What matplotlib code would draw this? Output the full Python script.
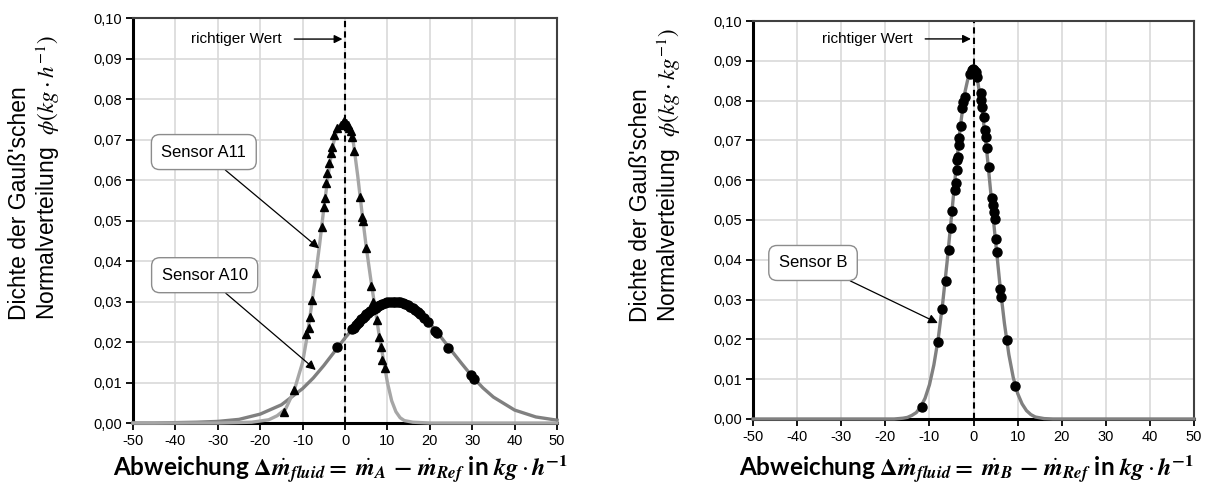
import matplotlib.pyplot as plt
from matplotlib.ticker import FuncFormatter

plt.rcParams.update({'font.family': 'Liberation Sans', 'mathtext.fontset': 'stix',
                     'axes.unicode_minus': False})

# ---- Sensor A11 (left chart, triangles) ----
a11_curve_x = [-50, -30, -22, -18, -16, -14, -12, -10, -9, -8, -7, -6, -5, -4, -3, -2, -1, 0,
               1, 2, 3, 4, 5, 6, 7, 8, 9, 10, 11, 12, 13, 14, 16, 20, 50]
a11_curve_y = [0.0, 0.0, 0.0002, 0.0008, 0.0018, 0.0035, 0.0080, 0.0150, 0.0210, 0.0282, 0.0360,
               0.0440, 0.0530, 0.0610, 0.0680, 0.0720, 0.0738, 0.0742, 0.0728, 0.0690, 0.0610,
               0.0520, 0.0435, 0.0360, 0.0290, 0.0220, 0.0160, 0.0100, 0.0055, 0.0028, 0.0013,
               0.0006, 0.0002, 0.0, 0.0]
a11_pts_x = [-14.4, -12.0, -9.3, -8.6, -8.3, -7.7, -6.9, -5.5, -4.95, -4.7, -4.4, -4.2, -3.8, -3.4,
             -3.0, -2.6, -1.8, -1.0, -0.5, -0.2, 0.3, 0.6, 1.0, 1.3, 1.7, 2.1, 3.5, 4.1, 4.25,
             5.0, 6.2, 6.5, 7.5, 8.0, 8.4, 8.8, 9.4]
a11_pts_y = [0.0028, 0.0081, 0.0221, 0.0234, 0.0262, 0.0304, 0.0370, 0.0483, 0.0534, 0.0555,
             0.0592, 0.0617, 0.0641, 0.0666, 0.0682, 0.0710, 0.0728, 0.0736, 0.0742, 0.0745,
             0.0740, 0.0735, 0.0728, 0.0722, 0.0707, 0.0672, 0.0558, 0.0509, 0.0500, 0.0432,
             0.0338, 0.0300, 0.0254, 0.0213, 0.0188, 0.0156, 0.0135]

# ---- Sensor A10 (left chart, circles) ----
a10_curve_x = [-50, -45, -40, -35, -30, -25, -20, -15, -10, -7.5, -5, -2.5, 0, 2.5, 5, 7.5, 10,
               12.5, 15, 17.5, 20, 22.5, 25, 27.5, 30, 32.5, 35, 40, 45, 50]
a10_curve_y = [0.0, 0.0, 0.0001, 0.0002, 0.0004, 0.0009, 0.0022, 0.0045, 0.0085, 0.0111, 0.0142,
               0.0176, 0.0210, 0.0241, 0.0267, 0.0288, 0.0298, 0.0300, 0.0291, 0.0272, 0.0246,
               0.0214, 0.0180, 0.0147, 0.0115, 0.0087, 0.0064, 0.0032, 0.0015, 0.0007]
a10_pts_x = [-2.0, 1.7, 2.0, 2.5, 3.0, 3.3, 3.8, 4.2, 4.6, 5.0, 5.5, 6.0, 6.4, 6.8, 7.3, 7.8,
             8.2, 8.8, 9.4, 10.0, 10.6, 11.2, 11.8, 12.4, 13.0, 13.6, 14.2, 14.8, 15.4, 16.0,
             16.6, 17.2, 17.8, 18.6, 19.6, 21.3, 21.7, 24.4, 29.6, 30.4]
a10_pts_y = [0.0187, 0.0232, 0.0235, 0.0241, 0.0247, 0.0250, 0.0256, 0.0260, 0.0264, 0.0268,
             0.0272, 0.0276, 0.0279, 0.0282, 0.0285, 0.0289, 0.0291, 0.0294, 0.0296, 0.0298,
             0.0299, 0.0300, 0.0300, 0.0299, 0.0298, 0.0296, 0.0294, 0.0291, 0.0287, 0.0283,
             0.0279, 0.0274, 0.0268, 0.0260, 0.0249, 0.0226, 0.0222, 0.0185, 0.0119, 0.0109]

# ---- Sensor B (right chart, circles) ----
b_curve_x = [-50, -20, -18, -16, -15, -14, -13, -12, -11, -10, -9, -8, -7, -6, -5, -4, -3, -2,
             -1, 0, 1, 2, 3, 4, 5, 6, 7, 8, 9, 10, 11, 12, 13, 14, 15, 16, 18, 50]
b_curve_y = [0.0, 0.0, 0.0, 0.0002, 0.0004, 0.0009, 0.0016, 0.0030, 0.0052, 0.0086, 0.0136,
             0.0203, 0.0291, 0.0395, 0.0510, 0.0627, 0.0735, 0.0819, 0.0869, 0.0878, 0.0844,
             0.0772, 0.0672, 0.0557, 0.0445, 0.0335, 0.0240, 0.0162, 0.0104, 0.0064, 0.0038,
             0.0021, 0.0011, 0.0005, 0.0003, 0.0001, 0.0, 0.0]
b_pts_x = [-11.8, -8.1, -7.1, -6.3, -5.6, -5.2, -4.8, -4.3, -4.07, -3.85, -3.7, -3.55, -3.3,
           -3.2, -2.9, -2.6, -2.3, -2.0, -0.7, -0.4, -0.1, 0.2, 0.5, 0.83, 1.6, 1.75, 1.97,
           2.33, 2.64, 2.8, 3.1, 3.46, 4.2, 4.45, 4.6, 4.75, 5.13, 5.36, 5.95, 6.33, 7.47, 9.5]
b_pts_y = [0.0029, 0.0193, 0.0276, 0.0347, 0.0425, 0.0479, 0.0523, 0.0575, 0.0592, 0.0626,
           0.0651, 0.0659, 0.0688, 0.0705, 0.0736, 0.0781, 0.0797, 0.0810, 0.0868, 0.0876,
           0.0880, 0.0878, 0.0872, 0.0859, 0.0818, 0.0802, 0.0785, 0.0760, 0.0726, 0.0709,
           0.0680, 0.0632, 0.0556, 0.0538, 0.0521, 0.0502, 0.0451, 0.0420, 0.0327, 0.0307,
           0.0198, 0.0084]

x_ticks = list(range(-50, 51, 10))
y_ticks = [0.0, 0.01, 0.02, 0.03, 0.04, 0.05, 0.06, 0.07, 0.08, 0.09, 0.10]

light = '#a6a6a6'
dark = '#808080'

fig = plt.figure(figsize=(12.07, 4.92), dpi=100)
ax1 = fig.add_axes([0.1102, 0.1402, 0.3513, 0.8232])
ax2 = fig.add_axes([0.6239, 0.1484, 0.3654, 0.8089])


def style(ax):
    ax.set_xlim(-50, 50)
    ax.set_ylim(0, 0.1)
    ax.set_xticks(x_ticks)
    ax.set_yticks(y_ticks)
    ax.yaxis.set_major_formatter(FuncFormatter(lambda v, p: f'{v:.2f}'.replace('.', ',')))
    ax.grid(True, color='#d9d9d9', lw=1.2, zorder=0)
    ax.set_axisbelow(True)
    ax.tick_params(direction='out', length=5, width=1.3, labelsize=10.5, pad=3)
    for s in ['left', 'bottom']:
        ax.spines[s].set_linewidth(2.2)
        ax.spines[s].set_color('black')
    for s in ['top', 'right']:
        ax.spines[s].set_linewidth(1.5)
        ax.spines[s].set_color('#404040')
    ax.axvline(0, color='black', ls=(0, (3, 2)), lw=1.5, zorder=2)


def callout(ax, text, xy, xytext):
    ax.annotate(text, xy=xy, xytext=xytext, ha='center', va='center', fontsize=12,
                bbox=dict(boxstyle='round,pad=0.6,rounding_size=0.5', fc='white', ec='#8c8c8c', lw=1),
                arrowprops=dict(arrowstyle='-|>', color='black', lw=0.9, mutation_scale=14,
                                shrinkA=0, shrinkB=0), zorder=6)


def marker_arrow(ax, x_text, y):
    ax.annotate('richtiger Wert', xy=(-0.6, y), xytext=(x_text, y), ha='right', va='center',
                fontsize=11, arrowprops=dict(arrowstyle='-|>', color='black', lw=1,
                                             mutation_scale=12, shrinkA=7, shrinkB=0))


# left chart
style(ax1)
ax1.plot(a10_curve_x, a10_curve_y, color=dark, lw=2.4, zorder=3, clip_on=False)
ax1.plot(a11_curve_x, a11_curve_y, color=light, lw=2.4, zorder=3, clip_on=False)
ax1.plot(a10_pts_x, a10_pts_y, 'o', color='black', ms=6.5, zorder=4)
ax1.plot(a11_pts_x, a11_pts_y, '^', color='black', ms=5.5, zorder=4)
marker_arrow(ax1, -14.9, 0.0948)
callout(ax1, 'Sensor A11', (-6.1, 0.0431), (-33.3, 0.0669))
callout(ax1, 'Sensor A10', (-6.9, 0.0131), (-33.1, 0.0365))

# right chart
style(ax2)
ax2.plot(b_curve_x, b_curve_y, color=dark, lw=2.4, zorder=3, clip_on=False)
ax2.plot(b_pts_x, b_pts_y, 'o', color='black', ms=6.5, zorder=4)
marker_arrow(ax2, -13.8, 0.0955)
callout(ax2, 'Sensor B', (-8.1, 0.0241), (-36.4, 0.0392))

# axis labels
fig.text(35 / 1207, 1 - 320 / 492, "Dichte der Gauß'schen\nNormalverteilung  $\\phi(kg\\cdot h^{-1})$",
         rotation=90, ha='center', va='bottom', multialignment='left', fontsize=16.5,
         linespacing=1.1)
fig.text(656 / 1207, 1 - 322 / 492, "Dichte der Gauß'schen\nNormalverteilung  $\\phi(kg\\cdot kg^{-1})$",
         rotation=90, ha='center', va='bottom', multialignment='left', fontsize=16.5,
         linespacing=1.1)

mdot = r'\dot{\mathbfit{m}}'
xl_tpl = (r'Abweichung $\mathbf{\Delta}' + mdot + r'_{\mathbfit{fluid}}\mathbf{=}\ ' + mdot +
          r'_{\mathbfit{%s}}\ \mathbf{-}\ ' + mdot + r'_{\mathbfit{Ref}}$ in '
          r'$\mathbfit{kg}\cdot\mathbfit{h}^{\mathbf{-1}}$')
fig.text(340 / 1207, 1 - 469 / 492, xl_tpl % 'A', ha='center', va='center', fontsize=17.5,
         fontweight='bold', family='Lato')
fig.text(966 / 1207, 1 - 469 / 492, xl_tpl % 'B', ha='center', va='center', fontsize=17.5,
         fontweight='bold', family='Lato')

fig.savefig('out.png', dpi=100)
